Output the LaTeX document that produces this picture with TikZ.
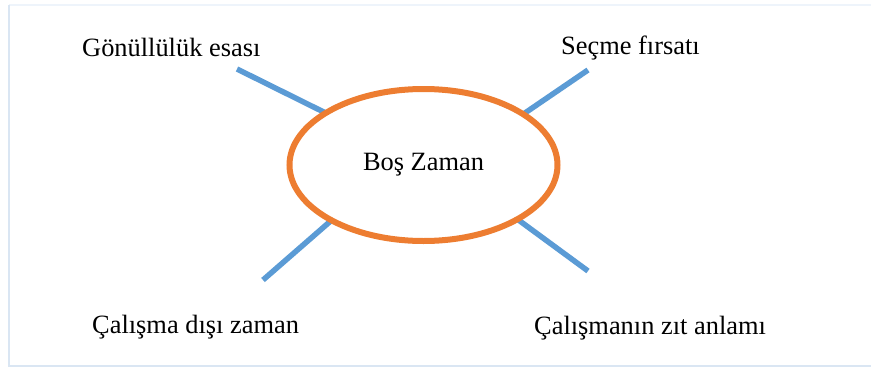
\documentclass[tikz,border=0pt]{standalone}
\usepackage{fontspec}
\setmainfont{Liberation Serif}
\usetikzlibrary{shapes.geometric,backgrounds}
\definecolor{orangeline}{HTML}{ED7D31}
\definecolor{blueline}{HTML}{5B9BD5}
\definecolor{frametop}{HTML}{EEF4FB}
\definecolor{frameside}{HTML}{DAE6F3}
\tikzset{
  label text/.style={inner sep=0pt, anchor=base west, font=\fontsize{26.4}{30}\selectfont},
  spoke/.style={draw=blueline, line width=5.5pt},
  hub/.style={ellipse, draw=orangeline, line width=6pt, outer sep=0pt, minimum width=268pt, minimum height=152pt, inner sep=0pt, font=\fontsize{26.4}{30}\selectfont}
}
\begin{document}
\begin{tikzpicture}[x=1pt,y=-1pt]
\useasboundingbox (0,0) rectangle (871,367);
% frame
\draw[frametop, line width=2pt] (871,4.5) -- (9,4.5);
\draw[frameside, line width=2pt] (9,4.5) -- (9,366) -- (871,366);
% hub
\node[hub] (ell) at (423.5,165) {Boş Zaman};
% labels
\node[label text] (t1) at (82,56) {Gönüllülük esası};
\node[label text] (t2) at (561,54) {Seçme fırsatı};
\node[label text] (t3) at (92,333) {Çalışma dışı zaman};
\node[label text] (t4) at (534,334) {Çalışmanın zıt anlamı};
% spoke ends
\coordinate (e1) at (237,69);
\coordinate (e2) at (588,70);
\coordinate (e3) at (263,280);
\coordinate (e4) at (588,271);
\begin{scope}[on background layer]
\draw[spoke] (ell.152) -- (e1);
\draw[spoke] (ell.27) -- (e2);
\draw[spoke] (ell.211) -- (e3);
\draw[spoke] (ell.330) -- (e4);
\end{scope}
\end{tikzpicture}
\end{document}
